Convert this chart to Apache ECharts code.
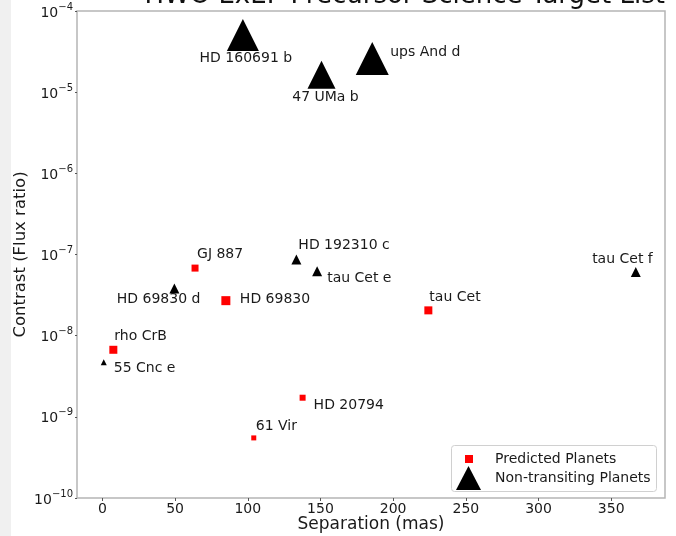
<!DOCTYPE html>
<html>
<head>
<meta charset="utf-8">
<script src="https://cdn.jsdelivr.net/npm/echarts@6/dist/echarts.min.js"></script>
<style>
  html, body { margin: 0; padding: 0; background: #fff; }
  #chart { width: 676px; height: 536px; }
</style>
</head>
<body>
<div id="chart"></div>
<script>
// Predicted planets (red squares)
const predNames    = ['GJ 887', 'HD 69830', 'rho CrB', 'tau Cet', 'HD 20794', '61 Vir'];
const predSep      = [63.7, 84.9, 7.5, 224.2, 137.7, 104.1];
const predContrast = [6.8e-8, 2.7e-8, 6.7e-9, 2.05e-8, 1.72e-9, 5.5e-10];

// Non-transiting planets (black triangles)
const ntNames    = ['HD 160691 b', '47 UMa b', 'ups And d', 'HD 192310 c', 'tau Cet e', 'tau Cet f', 'HD 69830 d', '55 Cnc e'];
const ntSep      = [96.6, 150.7, 185.6, 133.4, 147.7, 366.9, 49.5, 0.9];
const ntContrast = [5.06e-5, 1.64e-5, 2.6e-5, 8.7e-8, 6.2e-8, 6.1e-8, 3.8e-8, 4.7e-9];

const xTicks = [0, 50, 100, 150, 200, 250, 300, 350];

// marker sizes and label placement (px, from marker centre)
const predSize  = [7, 9, 8, 8, 6, 5];
const predLabel = [[2, -14, 'left'], [14, -1, 'left'], [1, -13, 'left'], [1, -13, 'left'], [11, 8, 'left'], [2, -12, 'left']];
const ntSize    = [32, 28, 33, 10, 10, 10, 10, 6];
const ntLabel   = [[3, 23, 'center'], [4, 23, 'center'], [18, -6, 'left'], [2, -14, 'left'], [10, 7, 'left'],
                   [17, -13, 'right'], [26, 11, 'right'], [10, 6, 'left']];

const FONT = 'DejaVu Sans';
const INK  = '#1a1a1a';

function points(sep, con, names, sizes, labels) {
  return sep.map((x, i) => ({
    name: names[i],
    value: [x, con[i]],
    symbolSize: sizes[i],
    label: { align: labels[i][2], offset: [labels[i][0], labels[i][1]] },
  }));
}

const baseLabel = {
  show: true,
  position: 'inside',
  verticalAlign: 'middle',
  formatter: (p) => p.name,
  color: INK,
  fontFamily: FONT,
  fontSize: 14,
};

const chart = echarts.init(document.getElementById('chart'), null, { renderer: 'canvas' });

chart.setOption({
  backgroundColor: '#fff',
  animation: false,
  title: {
    text: 'HWO ExEP Precursor Science Target List',
    right: 11,
    top: -17,
    padding: 0,
    textStyle: { fontFamily: FONT, fontSize: 26, fontWeight: 'normal', color: '#111' },
  },
  graphic: [
    { type: 'rect', left: 0, top: 0, shape: { width: 11, height: 536 }, style: { fill: '#f0f0f0' }, silent: true },
    { type: 'rect', left: 451, top: 445, shape: { width: 205, height: 46, r: 3 },
      style: { fill: '#fff', stroke: '#d0d0d0', lineWidth: 1 }, z: 10, silent: true },
  ],
  grid: {
    left: 77, right: 11, top: 11, bottom: 38,
    outerBoundsMode: 'none',
    show: true, borderColor: '#b5b5b5', borderWidth: 1.5,
  },
  legend: [
    {
      data: [{ name: 'Predicted Planets', icon: 'rect' }],
      left: 465, top: 452, itemWidth: 8, itemHeight: 8, padding: 0, z: 20,
      textStyle: { fontFamily: FONT, fontSize: 14, color: INK, padding: [0, 0, 0, 17] },
    },
    {
      data: [{ name: 'Non-transiting Planets', icon: 'triangle' }],
      left: 456, top: 466, itemWidth: 25, itemHeight: 24, padding: 0, z: 20,
      textStyle: { fontFamily: FONT, fontSize: 14, color: INK, padding: [0, 0, 0, 9] },
    },
  ],
  xAxis: {
    type: 'value',
    min: -17.5,
    max: 387,
    name: 'Separation (mas)',
    nameLocation: 'middle',
    nameGap: 18,
    nameMoveOverlap: false,
    nameTextStyle: { fontFamily: FONT, fontSize: 17, color: INK },
    axisLine: { show: false, onZero: false },
    splitLine: { show: false },
    axisTick: { show: true, customValues: xTicks, length: 3, lineStyle: { color: '#555' } },
    axisLabel: { customValues: xTicks, fontFamily: FONT, fontSize: 14, color: INK, margin: 4 },
  },
  yAxis: {
    type: 'log',
    logBase: 10,
    min: 1e-10,
    max: 1e-4,
    name: 'Contrast (Flux ratio)',
    nameLocation: 'middle',
    nameGap: 48,
    nameMoveOverlap: false,
    nameTextStyle: { fontFamily: FONT, fontSize: 16.5, color: INK },
    axisLine: { show: false, onZero: false },
    splitLine: { show: false },
    axisTick: { show: true, length: 2, lineStyle: { color: '#555' } },
    axisLabel: {
      margin: 4,
      formatter: (v) => '{b|10}{s|\u2212' + Math.round(-Math.log10(v)) + '}',
      rich: {
        b: { fontFamily: FONT, fontSize: 14, color: INK, lineHeight: 18, verticalAlign: 'bottom' },
        s: { fontFamily: FONT, fontSize: 10, color: INK, lineHeight: 18, verticalAlign: 'top' },
      },
    },
  },
  series: [
    {
      type: 'scatter',
      name: 'Predicted Planets',
      symbol: 'rect',
      itemStyle: { color: '#ff0000', opacity: 1 },
      label: baseLabel,
      data: points(predSep, predContrast, predNames, predSize, predLabel),
      z: 3,
    },
    {
      type: 'scatter',
      name: 'Non-transiting Planets',
      symbol: 'triangle',
      itemStyle: { color: '#000', opacity: 1 },
      label: baseLabel,
      data: points(ntSep, ntContrast, ntNames, ntSize, ntLabel),
      z: 4,
    },
  ],
});
</script>
</body>
</html>
